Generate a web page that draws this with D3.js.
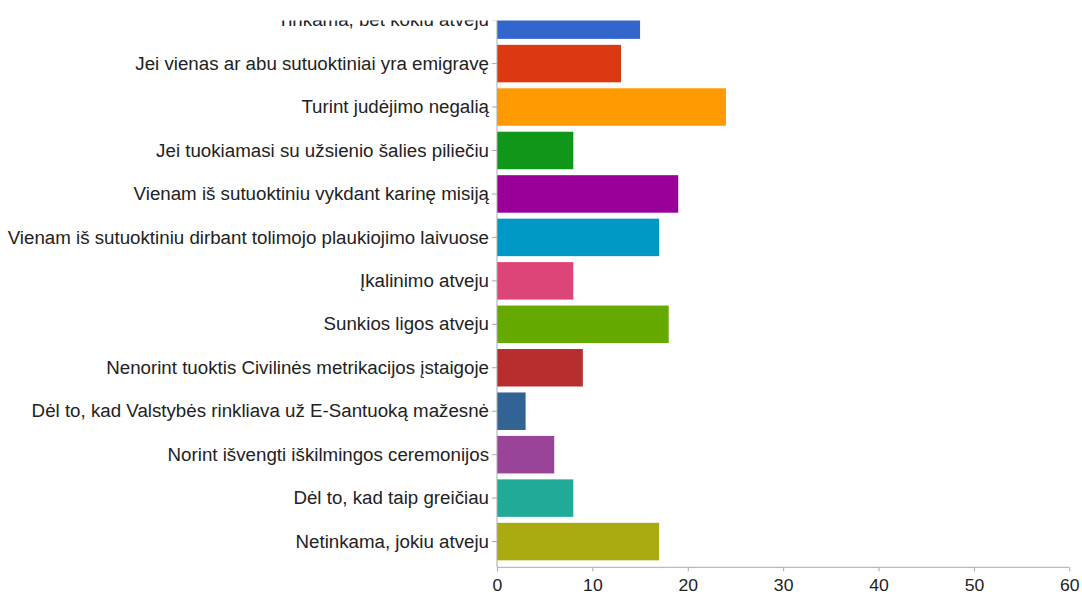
<!DOCTYPE html>
<html><head><meta charset="utf-8">
<script src="https://cdn.jsdelivr.net/npm/d3@7"></script>
<style>html,body{margin:0;padding:0;background:#fff;overflow:hidden}svg{display:block}</style>
</head><body>
<script>
const categories = [
  "Tinkama, bet kokiu atveju",
  "Jei vienas ar abu sutuoktiniai yra emigravę",
  "Turint judėjimo negalią",
  "Jei tuokiamasi su užsienio šalies piliečiu",
  "Vienam iš sutuoktiniu vykdant karinę misiją",
  "Vienam iš sutuoktiniu dirbant tolimojo plaukiojimo laivuose",
  "Įkalinimo atveju",
  "Sunkios ligos atveju",
  "Nenorint tuoktis Civilinės metrikacijos įstaigoje",
  "Dėl to, kad Valstybės rinkliava už E-Santuoką mažesnė",
  "Norint išvengti iškilmingos ceremonijos",
  "Dėl to, kad taip greičiau",
  "Netinkama, jokiu atveju"
];
const values = [15, 13, 24, 8, 19, 17, 8, 18, 9, 3, 6, 8, 17];
const colors = ["#3366cc","#dc3912","#ff9900","#109618","#990099","#0099c6","#dd4477","#66aa00","#b82e2e","#316395","#994499","#22aa99","#aaaa11"];
const xTicks = [0, 10, 20, 30, 40, 50, 60];

const W = 1082, H = 595;
const svg = d3.select("body").append("svg").attr("width", W).attr("height", H);

const x = d3.scaleLinear().domain([0, 60]).range([497, 1069.3]);
const y = d3.scaleBand().domain(categories).range([-1.6, 563.3]).paddingInner(0.137).paddingOuter(0.0685);

svg.append("g").selectAll("rect").data(categories).join("rect")
  .attr("x", x(0))
  .attr("y", d => y(d))
  .attr("width", (d, i) => x(values[i]) - x(0))
  .attr("height", y.bandwidth())
  .attr("fill", (d, i) => colors[i]);

const font = "'Liberation Sans', Arial, Helvetica, sans-serif";

const yAxis = svg.append("g").attr("transform", `translate(${x(0)},0)`)
  .call(d3.axisLeft(y).tickSize(5).tickPadding(3));
yAxis.select(".domain").attr("stroke", "#aaa").attr("d", `M0,-2V567.3`);
yAxis.selectAll(".tick line").attr("stroke", "#aaa");
const sy = 1.04;
yAxis.selectAll(".tick text").attr("fill", "#222").style("font-family", font).style("font-size", "18px")
  .attr("x", -8 / sy).attr("dy", "0.34em").attr("transform", `scale(${sy},1)`);

const xAxis = svg.append("g").attr("transform", "translate(0,567.3)")
  .call(d3.axisBottom(x).tickValues(xTicks).tickSize(4).tickPadding(6));
xAxis.select(".domain").attr("stroke", "#aaa").attr("d", `M${x(0)},0H${x(60)}`);
xAxis.selectAll(".tick line").attr("stroke", "#aaa");
xAxis.selectAll(".tick text").attr("fill", "#222").style("font-family", font).style("font-size", "16px")
  .attr("y", 12).attr("dy", "0.71em").attr("transform", "scale(1.1,1)");

// header area covering the top of the chart
svg.append("rect").attr("x", 0).attr("y", 0).attr("width", W).attr("height", 20.5).attr("fill", "#fff");
</script>
</body></html>
